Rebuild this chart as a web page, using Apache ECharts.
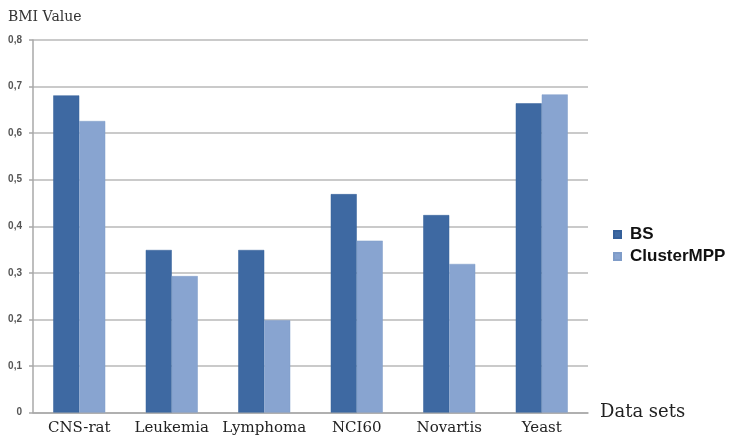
<!DOCTYPE html>
<html>
<head>
<meta charset="utf-8">
<script src="https://cdn.jsdelivr.net/npm/echarts@6/dist/echarts.min.js"></script>
<style>
html,body{margin:0;padding:0;background:#fff;}
#c{width:743px;height:438px;}
</style>
</head>
<body>
<div id="c"></div>
<script>
var categories = ['CNS-rat', 'Leukemia', 'Lymphoma', 'NCI60', 'Novartis', 'Yeast'];
var bsValues = [0.681, 0.349, 0.349, 0.469, 0.424, 0.664];
var clusterValues = [0.626, 0.293, 0.198, 0.369, 0.319, 0.683];
var seriesNames = ['BS', 'ClusterMPP'];

var chart = echarts.init(document.getElementById('c'));
chart.setOption({
  animation: false,
  backgroundColor: '#ffffff',
  title: {
    text: 'BMI Value',
    left: 3,
    top: 5,
    textStyle: {fontFamily: 'DejaVu Serif', fontSize: 14, fontWeight: 'normal', color: '#333'}
  },
  legend: {
    orient: 'vertical',
    left: 608,
    top: 221,
    itemWidth: 7,
    itemHeight: 7,
    itemGap: 5,
    icon: 'rect',
    textStyle: {fontFamily: 'Liberation Sans', fontSize: 17, fontWeight: 'bold', color: '#111', padding: [0,0,0,4]},
    data: seriesNames
  },
  grid: {left: 33, right: 155, top: 40, bottom: 25.5, containLabel: false},
  xAxis: {
    type: 'category',
    data: categories,
    name: 'Data sets',
    nameLocation: 'end',
    nameGap: 12,
    nameTextStyle: {fontFamily: 'DejaVu Serif', fontSize: 18, color: '#222', verticalAlign: 'middle', padding: [0,0,6,0]},
    axisLine: {lineStyle: {color: '#a8a8a8', width: 1.5}},
    axisTick: {show: false},
    axisLabel: {interval: 0, hideOverlap: false, fontFamily: 'DejaVu Serif', fontSize: 15, color: '#222', margin: 8}
  },
  yAxis: {
    type: 'value',
    min: 0,
    max: 0.8,
    interval: 0.1,
    axisLine: {show: true, lineStyle: {color: '#a8a8a8', width: 1.5}},
    axisTick: {show: true, length: 4, lineStyle: {color: '#a8a8a8', width: 1.5}},
    splitLine: {lineStyle: {color: '#b8b8b8', width: 1.5}},
    axisLabel: {
      fontFamily: 'Liberation Sans', fontSize: 10, fontWeight: 'bold', color: '#555', margin: 11,
      formatter: function (v) { return v === 0 ? '0' : v.toFixed(1).replace('.', ','); }
    }
  },
  series: [
    {name: seriesNames[0], type: 'bar', data: bsValues, barWidth: 26, barGap: '0%',
     itemStyle: {color: '#3e69a2', borderColor: '#35609a', borderWidth: 0.5}},
    {name: seriesNames[1], type: 'bar', data: clusterValues, barWidth: 26, barGap: '0%',
     itemStyle: {color: '#88a4d0', borderColor: '#7f9cc8', borderWidth: 0.5}}
  ]
});
</script>
</body>
</html>
